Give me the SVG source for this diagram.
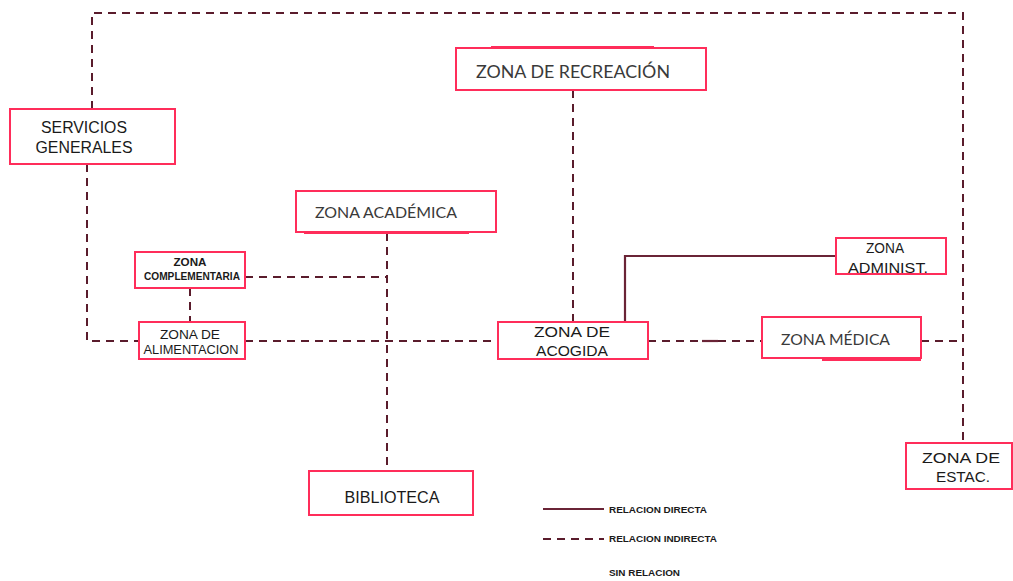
<svg xmlns="http://www.w3.org/2000/svg" width="1013" height="581" viewBox="0 0 1013 581">
<style>
.box{fill:#fff;stroke:#ff2d5a;stroke-width:2}
.sh{stroke:#ff2d5a;stroke-width:2;fill:none}
.dash{fill:none;stroke:#5a1c2c;stroke-width:2;stroke-dasharray:8 6}
.solid{fill:none;stroke:#6a2436;stroke-width:2.2}
.cad{font-family:"Liberation Sans",Arial,sans-serif;fill:#1a1a1a;text-anchor:middle}
.cal{font-family:Lato,"Open Sans",sans-serif;fill:#3a3a3a}
.leg{font-family:"Liberation Sans",Arial,sans-serif;fill:#1a1a1a;font-size:9px;font-weight:bold}
</style>
<rect width="1013" height="581" fill="#fff"/>
<g id="connectors">
<path class="dash" d="M92,109 V13 H963 V443"/>
<path class="dash" d="M87,164 V341 H139"/>
<path class="dash" d="M190,288 V322"/>
<path class="dash" d="M245,277 H387"/>
<path class="dash" d="M387,233 V471"/>
<path class="dash" d="M573,90 V322"/>
<path class="dash" d="M245,341 H498"/>
<path class="dash" d="M648,341 H762"/>
<path class="solid" d="M702,341 H718"/>
<path class="dash" d="M921,341 H963"/>
<path class="solid" d="M625,322 V256 H836"/>
</g>
<g id="servicios-generales">
<rect class="box" x="10" y="109" width="165" height="55"/>
<text class="cad" x="84" y="133" font-size="16" textLength="86" lengthAdjust="spacingAndGlyphs">SERVICIOS</text>
<text class="cad" x="84" y="153" font-size="16" textLength="97" lengthAdjust="spacingAndGlyphs">GENERALES</text>
</g>
<g id="zona-recreacion">
<line class="sh" x1="491" y1="47" x2="654" y2="47"/>
<rect class="box" x="456" y="48" width="250" height="42"/>
<text class="cal" x="476" y="78" font-size="18" textLength="194" lengthAdjust="spacingAndGlyphs">ZONA DE RECREACIÓN</text>
</g>
<g id="zona-academica">
<line class="sh" x1="304" y1="233" x2="469" y2="233"/>
<rect class="box" x="296" y="191" width="200" height="41"/>
<text class="cal" x="315" y="218" font-size="16" textLength="142" lengthAdjust="spacingAndGlyphs">ZONA ACADÉMICA</text>
</g>
<g id="zona-complementaria">
<rect class="box" x="135" y="252" width="110" height="36"/>
<text class="cad" x="190" y="266" font-size="10" font-weight="bold" textLength="33" lengthAdjust="spacingAndGlyphs">ZONA</text>
<text class="cad" x="192" y="280" font-size="10" font-weight="bold" textLength="96" lengthAdjust="spacingAndGlyphs">COMPLEMENTARIA</text>
</g>
<g id="zona-alimentacion">
<rect class="box" x="139" y="322" width="106" height="37"/>
<text class="cad" x="190" y="339" font-size="12" textLength="60" lengthAdjust="spacingAndGlyphs">ZONA  DE</text>
<text class="cad" x="191" y="354" font-size="12" textLength="95" lengthAdjust="spacingAndGlyphs">ALIMENTACION</text>
</g>
<g id="zona-acogida">
<rect class="box" x="498" y="322" width="150" height="37"/>
<text class="cad" x="572" y="337" font-size="14" textLength="76" lengthAdjust="spacingAndGlyphs">ZONA  DE</text>
<text class="cad" x="572" y="356" font-size="14" textLength="72" lengthAdjust="spacingAndGlyphs">ACOGIDA</text>
</g>
<g id="zona-administ">
<rect class="box" x="836" y="238" width="110" height="36"/>
<text class="cad" x="885" y="253" font-size="14" textLength="38" lengthAdjust="spacingAndGlyphs">ZONA</text>
<text class="cad" x="888" y="273" font-size="14" textLength="80" lengthAdjust="spacingAndGlyphs">ADMINIST.</text>
</g>
<g id="zona-medica">
<line class="sh" x1="822" y1="360" x2="921" y2="360"/>
<rect class="box" x="762" y="317" width="159" height="41"/>
<text class="cal" x="781" y="345" font-size="16" textLength="109" lengthAdjust="spacingAndGlyphs">ZONA MÉDICA</text>
</g>
<g id="biblioteca">
<rect class="box" x="309" y="471" width="164" height="44"/>
<text class="cad" x="392" y="503" font-size="16" textLength="95" lengthAdjust="spacingAndGlyphs">BIBLIOTECA</text>
</g>
<g id="zona-estac">
<rect class="box" x="906" y="443" width="106" height="46"/>
<text class="cad" x="961" y="463" font-size="15" textLength="78" lengthAdjust="spacingAndGlyphs">ZONA  DE</text>
<text class="cad" x="963" y="482" font-size="15" textLength="54" lengthAdjust="spacingAndGlyphs">ESTAC.</text>
</g>
<g id="legend">
<line class="solid" x1="543" y1="509" x2="604" y2="509"/>
<text class="leg" x="609" y="513" textLength="98" lengthAdjust="spacingAndGlyphs">RELACION  DIRECTA</text>
<line class="dash" x1="543" y1="539" x2="604" y2="539" stroke-dasharray="7 6"/>
<text class="leg" x="609" y="542" textLength="108" lengthAdjust="spacingAndGlyphs">RELACION  INDIRECTA</text>
<text class="leg" x="609" y="576" textLength="71" lengthAdjust="spacingAndGlyphs">SIN  RELACION</text>
</g>
</svg>
